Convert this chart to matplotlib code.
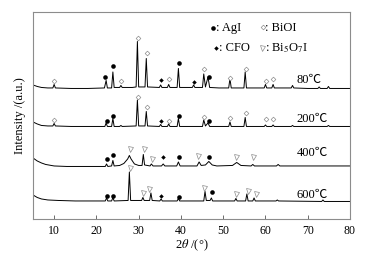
import matplotlib
matplotlib.use('Agg')
import matplotlib.pyplot as plt

plt.rcParams.update({'font.size': 8.5,
                     'font.family': ['Liberation Serif', 'Noto Sans CJK SC', 'DejaVu Sans'],
                     'mathtext.fontset': 'stix'})

# XRD traces as (2theta, intensity a.u.) points, offset per temperature
t80 = [(5, 134), (6, 132.5), (7, 131.5), (8.5, 131), (9.7, 131), (10.0, 134.5), (10.3, 131),
       (14, 130.5), (18, 130.5), (21.9, 131), (22.3, 138.5), (22.6, 131), (23.6, 131), (23.9, 147),
       (24.2, 131.5), (25.5, 131.5), (25.8, 133.5), (26.1, 131.5), (28.5, 131.5), (29.4, 132),
       (29.7, 177.5), (30.0, 132), (31.5, 132), (31.8, 160.5), (32.1, 132), (34.9, 131.5),
       (35.2, 134), (35.5, 131.5), (36.8, 131.5), (37.1, 134.5), (37.4, 131.5), (39.1, 131.5),
       (39.4, 150.5), (39.7, 131.5), (42.7, 131.5), (43.0, 134), (43.3, 131.5), (45.1, 131.5),
       (45.4, 145), (45.8, 132), (46.4, 142), (46.8, 131.5), (49, 131), (51.3, 131), (51.6, 140.5),
       (51.9, 131), (54.9, 131), (55.2, 147), (55.5, 131), (57, 131), (59.7, 131), (60.0, 134.5),
       (60.3, 131), (61.5, 131), (61.8, 134.5), (62.1, 131), (64.5, 131), (66.1, 131), (66.4, 133.5),
       (66.7, 131), (70, 130.5), (72.4, 130.5), (72.7, 132), (73.0, 130.5), (74.6, 130.5),
       (74.9, 132.5), (75.2, 130.5), (77, 130.5), (80, 130.5)]

t200 = [(5, 97), (6, 95), (7, 93.5), (8.5, 93), (9.7, 93), (10.0, 95.5), (10.3, 93), (14, 92.5),
        (18, 92.5), (22.0, 92.5), (22.3, 96), (22.6, 92.5), (23.6, 92.5), (23.9, 100.5), (24.2, 92.5),
        (25.5, 92.5), (25.8, 93.5), (26.1, 92.5), (29.4, 93), (29.7, 119), (30.0, 93), (31.5, 93),
        (31.8, 107.5), (32.1, 93), (34.9, 92.5), (35.2, 94.5), (35.5, 92.5), (36.8, 92.5), (37.1, 95),
        (37.4, 92.5), (39.1, 92.5), (39.4, 100.5), (39.7, 92.5), (45.1, 92.5), (45.4, 99), (45.8, 93),
        (46.4, 96), (46.8, 92.5), (51.3, 92.5), (51.6, 97), (51.9, 92.5), (54.9, 92.5), (55.2, 101.5),
        (55.5, 92.5), (59.7, 92.5), (60.0, 94), (60.3, 92.5), (61.5, 92.5), (61.8, 94), (62.1, 92.5),
        (66.1, 92.5), (66.4, 93.5), (66.7, 92.5), (74.6, 92.5), (74.9, 93.5), (75.2, 92.5), (80, 92.5)]

t400 = [(5, 61), (6, 58), (7, 56), (8, 54.5), (10, 53), (13, 52.5), (18, 52.5), (22.1, 52.5),
        (22.4, 55), (22.7, 52.5), (23.6, 53), (23.9, 58.5), (24.2, 53), (25.5, 53.5), (26.5, 55.5),
        (27.4, 60), (27.8, 63.5), (28.2, 60), (29.0, 55), (30.0, 53.5), (30.8, 53.5), (31.1, 64.5),
        (31.4, 54), (32.7, 53), (33.0, 55), (33.4, 53), (35.4, 53), (35.8, 55), (36.2, 53), (39.0, 53),
        (39.4, 57), (39.8, 53), (43.8, 53), (44.3, 57), (44.8, 53.5), (45.8, 54), (46.6, 57.5),
        (47.4, 54), (48.5, 53), (52.2, 53.5), (53.2, 56.5), (54.2, 53.5), (56.6, 53), (57.0, 54.5),
        (57.4, 53), (62.6, 53), (63.0, 54.5), (63.4, 53), (70, 53), (80, 53)]

t600 = [(5, 24), (6, 21.5), (7, 20), (8.5, 19), (11, 18.5), (15, 18), (22.1, 18), (22.4, 21),
        (22.7, 18), (23.6, 18), (23.9, 21.5), (24.2, 18), (27.5, 18.5), (27.8, 47), (28.1, 18.5),
        (30.7, 18.5), (31.0, 21.5), (31.3, 18.5), (32.6, 18.5), (32.9, 26), (33.2, 18.5), (35.0, 18),
        (35.3, 20), (35.6, 18), (39.1, 18), (39.4, 20.5), (39.7, 18), (45.4, 18), (45.7, 27.5),
        (46.0, 18.5), (46.9, 18.5), (47.2, 21), (47.5, 18), (52.7, 18), (53.0, 20.5), (53.3, 18),
        (55.3, 18), (55.6, 25), (55.9, 18), (57.0, 18), (57.3, 21), (57.6, 18), (62.5, 18),
        (62.8, 19), (63.1, 18), (73.3, 17.5), (73.6, 19), (73.9, 17.5), (80, 17.5)]

traces = [t80, t200, t400, t600]
temps = ['80℃', '200℃', '400℃', '600℃']
temp_y = [139, 100, 65.7, 24]

# phase markers above the peaks
agi = [(22.1, 142.3), (23.96, 153), (39.52, 155.7), (46.55, 142.3),
       (22.54, 98.3), (23.96, 103), (39.52, 103.3), (46.55, 98.3),
       (22.6, 59.7), (23.96, 64.3), (39.52, 62.3), (46.62, 61.5),
       (22.6, 23), (24.0, 23), (39.52, 22.3), (47.26, 27.3)]
bioi = [(10.0, 138), (25.79, 138), (29.74, 181.3), (31.87, 165.7), (37.15, 139.7), (45.44, 150),
        (51.59, 141.3), (55.31, 150.3), (60.04, 138), (61.84, 139.7),
        (10.0, 98.5), (29.74, 122.3), (31.87, 111.7), (37.15, 97.5), (45.44, 102.3),
        (51.59, 100.7), (55.31, 105.7), (60.04, 100), (61.84, 100)]
cfo = [(35.26, 139), (43.14, 137.3), (35.26, 98.3), (35.8, 61.5), (35.18, 23)]
bi5o7i = [(27.92, 69.7), (31.23, 69.7), (33.13, 59.7), (44.13, 62.5), (53.01, 62.3), (57.11, 62.3),
          (27.92, 50.7), (31.07, 25.7), (32.49, 30), (45.44, 30.7), (53.01, 24.7), (55.78, 28.3),
          (57.75, 25)]

GRAY = '#8c8c8c'
fig = plt.figure(figsize=(3.65, 2.57), dpi=100)
ax = fig.add_axes([0.0904, 0.148, 0.8685, 0.8055])

for tr in traces:
    xs, ys = zip(*tr)
    ax.plot(xs, ys, color='black', lw=0.7)

def mark(pts, **kw):
    xs, ys = zip(*pts)
    ax.plot(xs, ys, ls='none', **kw)

mark(agi, marker='o', ms=3.3, color='black', mew=0)
mark(bioi, marker='D', ms=2.4, mfc='white', mec=GRAY, mew=0.5)
mark(cfo, marker='D', ms=2.3, color='black', mew=0)
mark(bi5o7i, marker='v', ms=3.6, mfc='white', mec=GRAY, mew=0.5)

for lab, y in zip(temps, temp_y):
    ax.text(67.3, y, lab, fontsize=9, va='center', ha='left')

# legend drawn as text, like the original
ax.plot([47.6], [191], ls='none', marker='o', ms=3.3, color='black', mew=0)
ax.text(48.4, 191, ': AgI', fontsize=9, va='center')
ax.plot([59.3], [192], ls='none', marker='D', ms=2.4, mfc='white', mec=GRAY, mew=0.5)
ax.text(60.0, 191, ': BiOI', fontsize=9, va='center')
ax.plot([48.2], [170.7], ls='none', marker='D', ms=2.3, color='black', mew=0)
ax.text(48.9, 170.5, ': CFO', fontsize=9, va='center')
ax.plot([59.1], [170.5], ls='none', marker='v', ms=3.6, mfc='white', mec=GRAY, mew=0.5)
ax.text(60.0, 170.5, r': Bi$_5$O$_7$I', fontsize=9, va='center')

ax.set_xlim(5, 80)
ax.set_ylim(0, 207)
ax.set_xticks([10, 20, 30, 40, 50, 60, 70, 80])
ax.set_yticks([])
ax.tick_params(axis='x', direction='in', length=3, width=0.6, color='#555555', pad=4)
for s in ax.spines.values():
    s.set_color(GRAY)
    s.set_linewidth(0.8)
ax.set_xlabel(r'2$\it{\theta}$ /(°)', fontsize=9, labelpad=1)
ax.set_ylabel('Intensity /(a.u.)', fontsize=9, labelpad=5)

plt.savefig('out.png', dpi=100)
plt.close()
